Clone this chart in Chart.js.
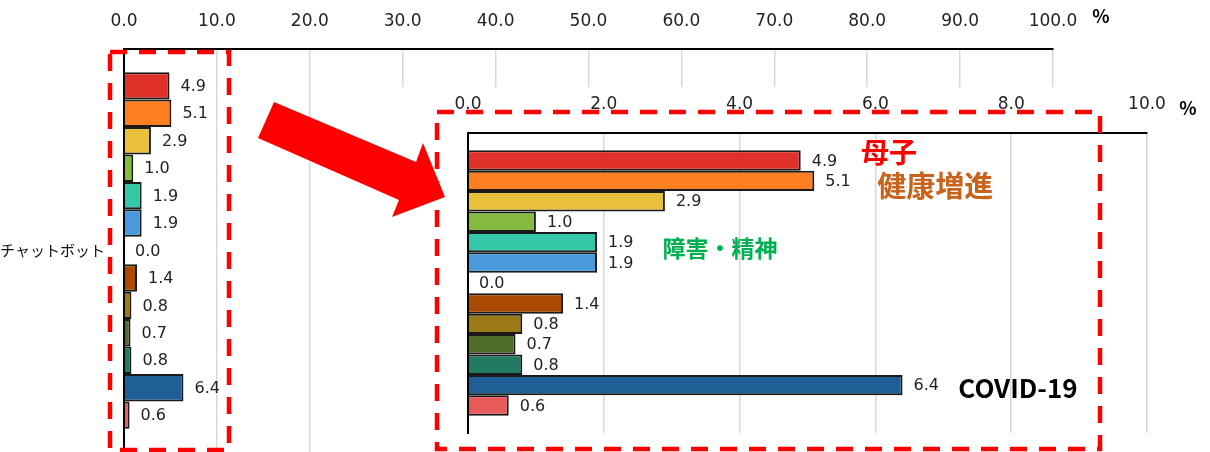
<!DOCTYPE html>
<html>
<head>
  <meta charset="utf-8">
  <title>チャットボット</title>
  <script src="https://cdn.jsdelivr.net/npm/chart.js"></script>
  <style>
    html, body { margin: 0; padding: 0; background: #fff; }
    #wrap { position: relative; width: 1210px; height: 452px; overflow: hidden; }
    #wrap canvas { position: absolute; left: 0; top: 0; }
  </style>
</head>
<body>
  <div id="wrap">
    <canvas id="mainChart" width="1210" height="452"></canvas>
    <canvas id="zoomChart" width="1210" height="452"></canvas>
  </div>

  <script>
    // カテゴリは1つ、系列は13本
    const categories = ['チャットボット'];
    const seriesNames = ['系列1', '系列2', '系列3', '系列4', '系列5', '系列6', '系列7',
                         '系列8', '系列9', '系列10', '系列11', '系列12', '系列13'];
    const seriesValues = [4.9, 5.1, 2.9, 1.0, 1.9, 1.9, 0.0, 1.4, 0.8, 0.7, 0.8, 6.4, 0.6];
    const seriesColors = ['#E0302A', '#FD7F1F', '#E9C03B', '#86BB40', '#34C8A9', '#4A9ADB', '#7F7F7F',
                          '#A94A00', '#9B7915', '#4E6E2A', '#217B63', '#1F5F96', '#E85A5A'];

    // 目盛り
    const mainTicks = [0, 10, 20, 30, 40, 50, 60, 70, 80, 90, 100];
    const zoomTicks = [0, 2, 4, 6, 8, 10];

    // 拡大図の注記 (系列番号とx値で位置を決める)
    const notes = [
      { text: '母子', series: 0, x: 6.2, dy: -8, color: '#FF0000', size: 28 },
      { text: '健康増進', series: 1, x: 6.88, dy: 5, color: '#C9621A', size: 29 },
      { text: '障害・精神', series: 4, x: 3.71, dy: 6, color: '#00B050', size: 23 },
      { text: 'COVID-19', series: 11, x: 8.1, dy: 3, color: '#000000', size: 26 }
    ];

    function makeDatasets() {
      return seriesValues.map((v, i) => ({
        label: seriesNames[i],
        data: [v],
        backgroundColor: seriesColors[i],
        borderColor: '#1a1a1a',
        borderWidth: 2,
        barPercentage: 1,
        categoryPercentage: 0.885
      }));
    }

    // 棒の右に値を表示
    const valueLabels = {
      id: 'valueLabels',
      afterDatasetsDraw(chart) {
        const ctx = chart.ctx;
        ctx.save();
        ctx.font = '16px "DejaVu Sans", Verdana, sans-serif';
        ctx.fillStyle = '#222';
        ctx.textAlign = 'left';
        ctx.textBaseline = 'middle';
        chart.data.datasets.forEach((ds, i) => {
          const bar = chart.getDatasetMeta(i).data[0];
          ctx.fillText(ds.data[0].toFixed(1), bar.x + 11, bar.y + 1);
        });
        ctx.restore();
      }
    };

    const tickFont = { family: '"DejaVu Sans", Verdana, sans-serif', size: 17 };

    // 全体のグラフ (0-100%)
    new Chart(document.getElementById('mainChart'), {
      type: 'bar',
      data: { labels: categories, datasets: makeDatasets() },
      options: {
        indexAxis: 'y',
        responsive: false,
        animation: false,
        layout: { padding: { left: 0, right: 157, top: 0, bottom: 0 } },
        plugins: { legend: { display: false }, tooltip: { enabled: false } },
        scales: {
          x: {
            position: 'top',
            min: mainTicks[0],
            max: mainTicks[mainTicks.length - 1],
            afterBuildTicks: s => { s.ticks = mainTicks.map(v => ({ value: v })); },
            ticks: { callback: v => Number(v).toFixed(1), font: tickFont, color: '#222', padding: 17 },
            grid: { color: '#d9d9d9', lineWidth: 1.5, drawTicks: false },
            border: { color: '#000', width: 2 },
            afterFit: s => { s.height = 49; }
          },
          y: {
            ticks: { font: { family: '"Noto Sans CJK JP", sans-serif', size: 15 }, color: '#111', padding: 19 },
            grid: { display: false, drawTicks: false },
            border: { color: '#000', width: 2 },
            afterFit: s => { s.width = 124; s.paddingTop = 0; s.paddingBottom = 0; }
          }
        }
      },
      plugins: [valueLabels]
    });

    // 拡大図の白背景
    const zoomBackground = {
      id: 'zoomBackground',
      beforeDraw(chart) {
        const ctx = chart.ctx;
        ctx.save();
        ctx.fillStyle = '#fff';
        ctx.fillRect(360, 87, 850, 365);
        ctx.restore();
      }
    };

    // 点線の枠、矢印、注記、% 記号
    const decorations = {
      id: 'decorations',
      afterDraw(chart) {
        const ctx = chart.ctx;
        const xs = chart.scales.x;
        ctx.save();

        // 注記
        notes.forEach(n => {
          const bar = chart.getDatasetMeta(n.series).data[0];
          ctx.font = 'bold ' + n.size + 'px "Noto Sans CJK JP", sans-serif';
          ctx.fillStyle = n.color;
          ctx.textAlign = 'center';
          ctx.textBaseline = 'middle';
          ctx.fillText(n.text, xs.getPixelForValue(n.x), bar.y + n.dy);
        });

        // % 記号
        ctx.font = 'bold 18px "Noto Sans CJK JP", sans-serif';
        ctx.fillStyle = '#000';
        ctx.fillText('%', 1101, 16);
        ctx.fillText('%', 1188, 108);

        // 赤い点線の枠
        ctx.strokeStyle = '#FF0000';
        ctx.lineWidth = 4.5;
        ctx.setLineDash([17, 12]);
        ctx.strokeRect(110, 52, 119, 398);
        ctx.strokeRect(437, 112, 663, 337);
        ctx.setLineDash([]);

        // 矢印
        ctx.fillStyle = '#FF0000';
        ctx.beginPath();
        ctx.moveTo(274, 102);
        ctx.lineTo(416, 162);
        ctx.lineTo(423, 143);
        ctx.lineTo(445, 197);
        ctx.lineTo(392, 217);
        ctx.lineTo(399, 200);
        ctx.lineTo(258, 138);
        ctx.closePath();
        ctx.fill();

        ctx.restore();
      }
    };

    // 拡大図 (0-10%)
    new Chart(document.getElementById('zoomChart'), {
      type: 'bar',
      data: { labels: categories, datasets: makeDatasets() },
      options: {
        indexAxis: 'y',
        responsive: false,
        animation: false,
        layout: { padding: { left: 0, right: 63, top: 0, bottom: 19 } },
        plugins: { legend: { display: false }, tooltip: { enabled: false } },
        scales: {
          x: {
            position: 'top',
            min: zoomTicks[0],
            max: zoomTicks[zoomTicks.length - 1],
            afterBuildTicks: s => { s.ticks = zoomTicks.map(v => ({ value: v })); },
            ticks: { callback: v => Number(v).toFixed(1), font: tickFont, color: '#222', padding: 18 },
            grid: { color: '#d9d9d9', lineWidth: 1.5, drawTicks: false },
            border: { color: '#000', width: 2 },
            afterFit: s => { s.height = 133; }
          },
          y: {
            ticks: { display: false },
            grid: { display: false, drawTicks: false },
            border: { color: '#000', width: 2 },
            afterFit: s => { s.width = 468; }
          }
        }
      },
      plugins: [zoomBackground, valueLabels, decorations]
    });
  </script>
</body>
</html>
